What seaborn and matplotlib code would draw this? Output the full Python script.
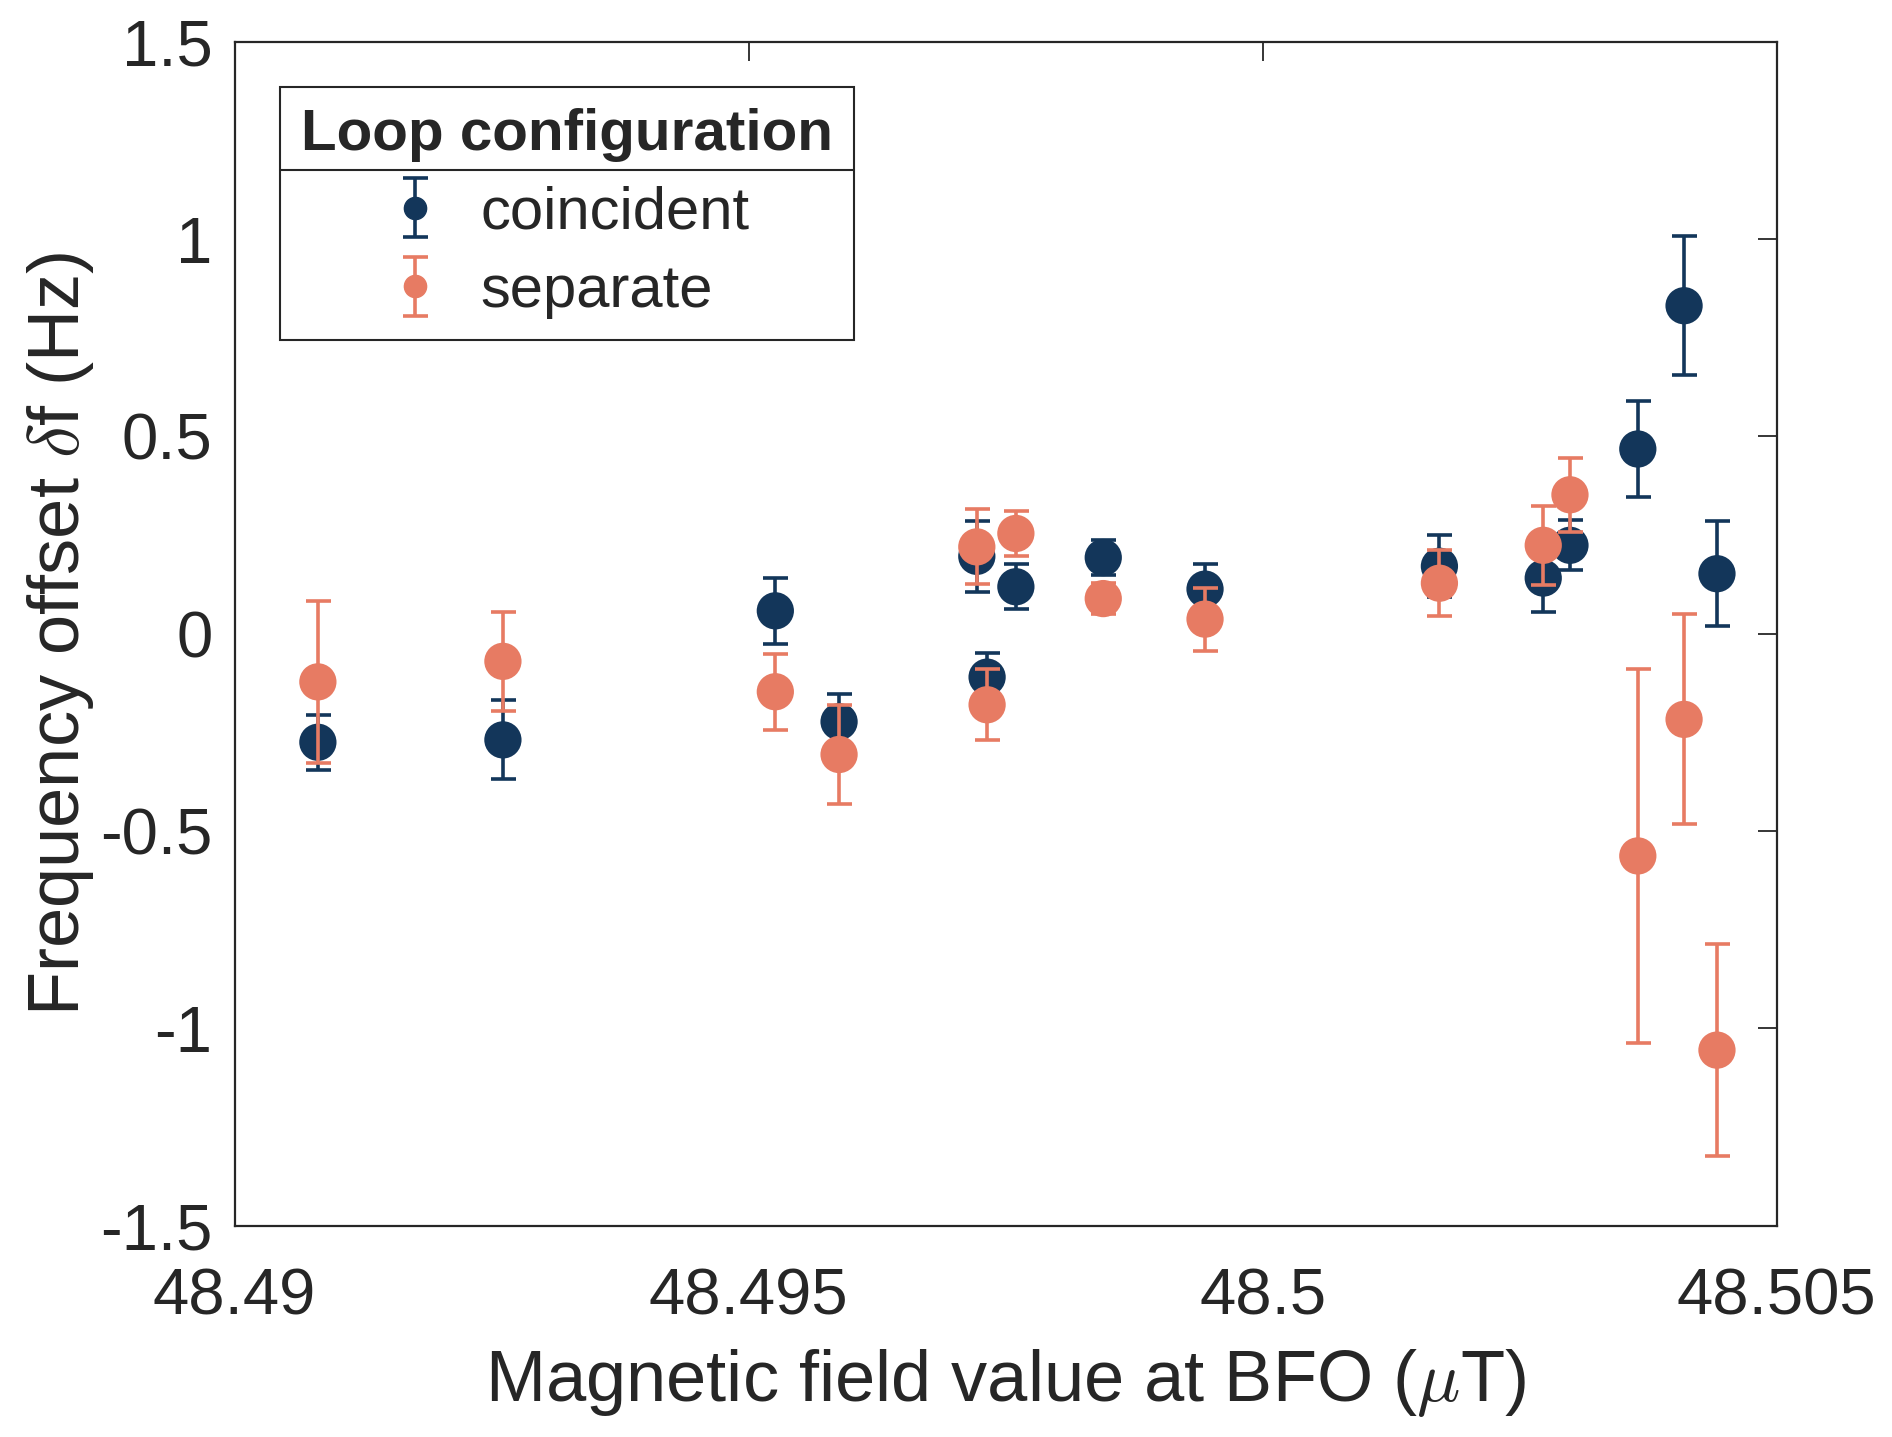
import numpy as np
import pandas as pd
import matplotlib
matplotlib.use("Agg")
import matplotlib.pyplot as plt
import seaborn as sns
from matplotlib.lines import Line2D
from matplotlib.legend_handler import HandlerTuple

# field value at BFO (uT), shared by both loop configurations
field_uT = [48.49081, 48.49261, 48.49526, 48.49588, 48.49722, 48.49732, 48.49760,
            48.49845, 48.49944, 48.50172, 48.50273, 48.50299, 48.50365, 48.50410, 48.50442]

coincident_df = [-0.275, -0.269, 0.058, -0.223, 0.196, -0.110, 0.119,
                 0.193, 0.113, 0.171, 0.141, 0.224, 0.468, 0.831, 0.152]
coincident_err = [0.070, 0.100, 0.083, 0.070, 0.090, 0.060, 0.057,
                  0.045, 0.064, 0.078, 0.085, 0.063, 0.122, 0.176, 0.133]

separate_df = [-0.122, -0.070, -0.147, -0.306, 0.220, -0.180, 0.254,
               0.089, 0.037, 0.128, 0.224, 0.352, -0.563, -0.217, -1.055]
separate_err = [0.205, 0.125, 0.096, 0.125, 0.095, 0.090, 0.057,
                0.040, 0.080, 0.083, 0.100, 0.094, 0.473, 0.266, 0.269]

configs = ["coincident", "separate"]
colors = {"coincident": "#13365A", "separate": "#E77B63"}

xticks = [48.49, 48.495, 48.5, 48.505]
xtick_labels = ["48.49", "48.495", "48.5", "48.505"]
yticks = [-1.5, -1, -0.5, 0, 0.5, 1, 1.5]
ytick_labels = ["-1.5", "-1", "-0.5", "0", "0.5", "1", "1.5"]

df = pd.concat([
    pd.DataFrame({"field": field_uT, "offset": coincident_df, "err": coincident_err, "config": "coincident"}),
    pd.DataFrame({"field": field_uT, "offset": separate_df, "err": separate_err, "config": "separate"}),
], ignore_index=True)

sns.set_theme(style="white")
plt.rcParams["font.family"] = ["Liberation Sans", "DejaVu Sans"]
plt.rcParams["mathtext.fontset"] = "cm"

ink = "#262626"
fig = plt.figure(figsize=(18.92, 14.37), dpi=100)
ax = fig.add_axes([0.124, 0.147, 0.815, 0.824])

handles = []
for i, cfg in enumerate(configs):
    sub = df[df["config"] == cfg]
    c = colors[cfg]
    eb = ax.errorbar(sub["field"], sub["offset"], yerr=sub["err"], fmt="none",
                     ecolor=c, elinewidth=2.6, capsize=9, capthick=2.6, zorder=2 + 2 * i)
    sns.scatterplot(data=sub, x="field", y="offset", color=c, s=720, edgecolor="none",
                    legend=False, zorder=3 + 2 * i, ax=ax)
    dot = Line2D([], [], marker="o", ls="none", color=c, markersize=16)
    handles.append((eb, dot))

ax.set_xlim(48.49, 48.505)
ax.set_ylim(-1.5, 1.5)
ax.set_xticks(xticks, labels=xtick_labels)
ax.set_yticks(yticks, labels=ytick_labels)
ax.tick_params(direction="in", length=14, width=1.3, colors=ink, labelsize=47,
               top=True, right=True)
ax.tick_params(axis="y", pad=16)
ax.tick_params(axis="x", pad=30)
for sp in ax.spines.values():
    sp.set_color(ink)
    sp.set_linewidth(1.6)

ax.set_xlabel(r"Magnetic field value at BFO ($\mu$T)", fontsize=52, color=ink, labelpad=14)
ax.set_ylabel(r"Frequency offset $\delta$f (Hz)", fontsize=52, color=ink)
ax.yaxis.set_label_coords(-0.09, 0.5)

leg = ax.legend(handles, configs, handler_map={tuple: HandlerTuple(ndivide=1)},
                title="Loop configuration", loc="upper left",
                bbox_to_anchor=(0.0297, 0.962), borderaxespad=0,
                fontsize=43, title_fontsize=42, frameon=True, fancybox=False,
                framealpha=1, edgecolor=ink, handlelength=1.0, handletextpad=0.6,
                borderpad=0.35, labelspacing=0.4, alignment="center")
leg.get_title().set_fontweight("bold")
leg.get_frame().set_linewidth(1.5)

# separator line under the legend title, halfway to the first entry
fig.canvas.draw()
r = fig.canvas.get_renderer()
fb = leg.get_frame().get_window_extent(r)
tb = leg.get_title().get_window_extent(r)
eb0 = leg.get_texts()[0].get_window_extent(r)
y_sep = (tb.y0 + eb0.y1) / 2 + 4
fig.add_artist(Line2D([fb.x0 / fig.bbox.width, fb.x1 / fig.bbox.width],
                      [y_sep / fig.bbox.height, y_sep / fig.bbox.height],
                      color=ink, lw=1.5, transform=fig.transFigure))

fig.savefig("out.png", dpi=100)
